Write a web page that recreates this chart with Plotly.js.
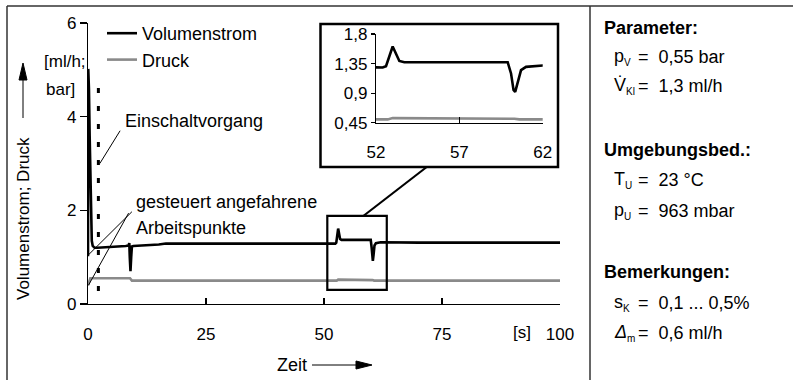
<!DOCTYPE html>
<html>
<head>
<meta charset="utf-8">
<script src="https://cdn.plot.ly/plotly-3.0.1.min.js"></script>
<style>html,body{margin:0;padding:0;background:#fff;}#chart{width:793px;height:380px;}</style>
</head>
<body>
<div id="chart"></div>
<script>
// ---- data ----
const tFlow = [0, 0.05, 0.2, 0.35, 0.5, 0.65, 0.8, 1.0, 1.4, 2, 4, 6, 8, 8.6, 8.75, 8.85, 9.0, 9.15, 9.3, 9.6, 12, 15, 16.5, 20, 30, 40, 50, 52.4, 52.6, 52.8, 53.0, 53.2, 53.4, 53.7, 56, 59.9, 60.1, 60.25, 60.35, 60.5, 60.7, 61, 62, 70, 80, 90, 100];
const flow  = [1.02, 5.02, 4.6, 3.6, 2.5, 1.7, 1.35, 1.24, 1.2, 1.2, 1.21, 1.23, 1.24, 1.25, 1.3, 1.0, 0.7, 1.0, 1.23, 1.24, 1.25, 1.27, 1.29, 1.29, 1.3, 1.3, 1.3, 1.29, 1.31, 1.45, 1.61, 1.5, 1.39, 1.37, 1.37, 1.37, 1.2, 0.95, 0.92, 1.05, 1.25, 1.3, 1.32, 1.31, 1.31, 1.31, 1.31];
const tPress = [0, 0.5, 1, 8.9, 9.3, 20, 52.4, 52.7, 53.0, 60.0, 60.3, 60.6, 100];
const press  = [0.40, 0.55, 0.55, 0.55, 0.50, 0.50, 0.49, 0.50, 0.52, 0.52, 0.51, 0.50, 0.50];
const seriesNames = ['Volumenstrom', 'Druck'];
const xTicks = [0, 25, 50, 75, 100];
const yTicks = [0, 2, 4, 6];
const insetXTicks = [52, 57, 62];
const insetYTicks = [0.45, 0.9, 1.35, 1.8];
const insetYLabels = ['0,45', '0,9', '1,35', '1,8'];

// ---- layout helpers (pixel -> paper) ----
const L = 88, T = 23, PW = 472, PH = 281;
const px = x => (x - L) / PW;
const py = y => (T + PH - y) / PH;
const FONT = 'Liberation Sans, Arial, Helvetica, sans-serif';
const FS = 17, FA = 18;
const BLACK = '#000000', GREY = '#8a8a8a';

const traces = [
  {x: tFlow, y: flow, name: seriesNames[0], legendgroup: 'a', type: 'scatter', mode: 'lines',
   line: {color: BLACK, width: 2.6}, xaxis: 'x', yaxis: 'y'},
  {x: tPress, y: press, name: seriesNames[1], legendgroup: 'b', type: 'scatter', mode: 'lines',
   line: {color: GREY, width: 2.6}, xaxis: 'x', yaxis: 'y'},
  {x: tFlow, y: flow, showlegend: false, type: 'scatter', mode: 'lines',
   line: {color: BLACK, width: 2.6}, xaxis: 'x2', yaxis: 'y2'},
  {x: tPress, y: press, showlegend: false, type: 'scatter', mode: 'lines',
   line: {color: GREY, width: 2.6}, xaxis: 'x2', yaxis: 'y2'}
];

function ann(text, x, y, opts, size) {
  return Object.assign({text: text, x: px(x), y: py(y), xref: 'paper', yref: 'paper',
    xanchor: 'left', yanchor: 'middle', showarrow: false,
    font: {family: FONT, size: size || FA, color: BLACK}}, opts || {});
}
function sub(s) { return '<sub><span style="font-size:10px">' + s + '</span></sub>'; }
function pline(x0, y0, x1, y1, w, color) {
  return {type: 'line', xref: 'paper', yref: 'paper', x0: px(x0), y0: py(y0), x1: px(x1), y1: py(y1),
          line: {color: color || BLACK, width: w}};
}
function ppath(pts, color) {
  const d = pts.map((p, i) => (i ? 'L' : 'M') + px(p[0]) + ',' + py(p[1])).join(' ') + ' Z';
  return {type: 'path', xref: 'paper', yref: 'paper', path: d, fillcolor: color, line: {color: color, width: 1}};
}
function dline(x0, y0, x1, y1, w, dash) {
  return {type: 'line', xref: 'x', yref: 'y', x0: x0, y0: y0, x1: x1, y1: y1,
          line: {color: BLACK, width: w, dash: dash || 'solid'}};
}

const shapes = [
  // outer frame & separator
  pline(7, 6, 793, 6, 1.5, '#333'),
  pline(7, 6, 7, 380, 1.5, '#333'),
  pline(590, 6, 590, 380, 1.5, '#333'),
  // inset frame
  {type: 'rect', xref: 'paper', yref: 'paper', x0: px(320.5), x1: px(558), y0: py(167), y1: py(24),
   line: {color: BLACK, width: 2.5}},
  // zoom window in main plot (data coordinates)
  {type: 'rect', xref: 'x', yref: 'y', x0: 50.7, x1: 63.3, y0: 0.30, y1: 1.88,
   line: {color: BLACK, width: 2.2}},
  pline(363.3, 216, 426.7, 167, 2.2),
  // switching-on marker
  dline(2.2, 0.28, 2.2, 4.65, 3, '5px,13px'),
  // leader lines
  dline(6.8, 3.7, 2.5, 3.0, 1),
  dline(9.3, 1.97, 0.1, 1.05, 1),
  dline(8.6, 1.94, 0.1, 0.40, 1),
  // axis-title arrows
  pline(23, 118, 23, 79, 1),
  ppath([[19, 80], [27, 80], [23, 63]], BLACK),
  pline(312, 365, 358, 365, 1),
  ppath([[356, 361], [356, 369], [372, 365]], BLACK)
];

const annotations = [
  ann('Volumenstrom; Druck', 23, 219, {xanchor: 'center', textangle: -90}, FS),
  ann('[ml/h;', 42, 61, null, FS),
  ann('bar]', 44, 89, null, FS),
  ann('Einschaltvorgang', 123, 121),
  ann('gesteuert angefahrene', 134, 202),
  ann('Arbeitspunkte', 134, 228),
  ann('[s]', 511, 332, null, FS),
  ann('Zeit', 292, 365, {xanchor: 'center'}),
  // right panel
  ann('<b>Parameter:</b>', 602, 28),
  ann('p' + sub('V'), 612, 57),
  ann('=\u00a0\u00a00,55 bar', 636, 57),
  ann('V\u0307' + sub('Kl'), 612, 86),
  ann('=\u00a0\u00a01,3 ml/h', 636, 86),
  ann('<b>Umgebungsbed.:</b>', 602, 150),
  ann('T' + sub('U'), 612, 180),
  ann('=\u00a0\u00a023 °C', 636, 180),
  ann('p' + sub('U'), 612, 211),
  ann('=\u00a0\u00a0963 mbar', 636, 211),
  ann('<b>Bemerkungen:</b>', 602, 272),
  ann('s' + sub('K'), 612, 303),
  ann('=\u00a0\u00a00,1 ... 0,5%', 636, 303),
  ann('<i>\u0394</i>' + sub('m'), 612, 333),
  ann('=\u00a0\u00a00,6 ml/h', 636, 333)
];

const axCommon = {showgrid: false, zeroline: false, showline: true, linecolor: BLACK, linewidth: 1.2,
  tickcolor: BLACK, tickwidth: 1.2, tickfont: {family: FONT, size: FS, color: BLACK}, fixedrange: true};

const layout = {
  width: 793, height: 380,
  margin: {l: L, r: 793 - L - PW, t: T, b: 380 - T - PH, pad: 0},
  paper_bgcolor: '#ffffff', plot_bgcolor: 'rgba(0,0,0,0)',
  font: {family: FONT, size: FS, color: BLACK},
  separators: ',.',
  showlegend: true,
  legend: {x: px(102), y: py(15), xanchor: 'left', yanchor: 'top', bgcolor: 'rgba(0,0,0,0)',
           font: {family: FONT, size: FA, color: BLACK}, tracegroupgap: 0, itemwidth: 30},
  xaxis: Object.assign({}, axCommon, {domain: [0, 1], range: [0, 100], tickmode: 'array', tickvals: xTicks,
           ticks: 'inside', ticklen: 6, ticklabelstandoff: 14, anchor: 'y'}),
  yaxis: Object.assign({}, axCommon, {domain: [0, 1], range: [0, 6], tickmode: 'array', tickvals: yTicks,
           ticks: 'outside', ticklen: 7, anchor: 'x'}),
  xaxis2: Object.assign({}, axCommon, {domain: [px(376), px(542.7)], range: [52, 62], tickmode: 'array',
           tickvals: insetXTicks, ticks: 'inside', ticklen: 6, ticklabelstandoff: 14, anchor: 'y2'}),
  yaxis2: Object.assign({}, axCommon, {domain: [py(122.7), py(34)], range: [0.45, 1.8], tickmode: 'array',
           tickvals: insetYTicks, ticktext: insetYLabels, ticks: 'outside', ticklen: 4, anchor: 'x2'}),
  shapes: shapes,
  annotations: annotations
};

Plotly.newPlot('chart', traces, layout, {displayModeBar: false, staticPlot: true});
</script>
</body>
</html>
